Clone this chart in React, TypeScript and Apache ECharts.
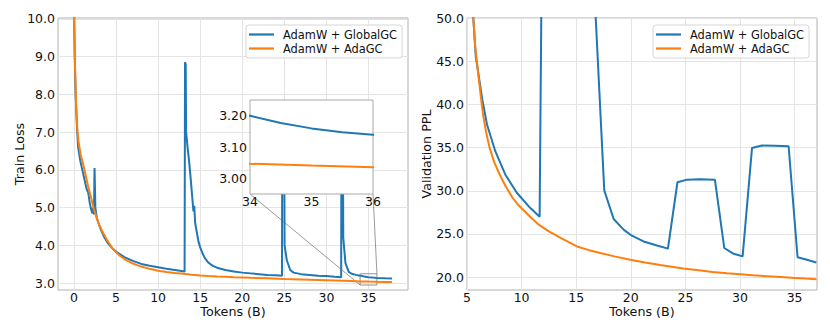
import React, { useEffect, useRef } from "react";
import * as echarts from "echarts";

// ---------- names & ticks ----------
const SERIES_NAMES = ["AdamW + GlobalGC", "AdamW + AdaGC"];
const lossTicksX = [0, 5, 10, 15, 20, 25, 30, 35];
const lossTicksY = [3, 4, 5, 6, 7, 8, 9, 10];
const pplTicksX = [5, 10, 15, 20, 25, 30, 35];
const pplTicksY = [20, 25, 30, 35, 40, 45, 50];
const insetTicksX = [34, 35, 36];
const insetTicksY = [3.0, 3.1, 3.2];

// ---------- train loss: AdamW + GlobalGC ----------
const lossGlobalTokens = [
  0, 0.1, 0.2, 0.35, 0.5, 0.75, 1.0, 1.25, 1.5, 1.7, 1.9, 2.05, 2.2, 2.3, 2.38, 2.45, 2.55, 2.7, 2.9, 3.2,
  3.6, 4.0, 4.5, 5, 6, 7, 8, 9, 10, 11, 12, 13.15, 13.2, 13.28, 13.33, 13.5, 13.7, 13.9, 14.05, 14.2,
  14.3, 14.4, 14.6, 14.8, 15.0, 15.3, 15.6, 16.0, 16.5, 17, 18, 19, 20, 21, 22, 23, 24, 24.72, 24.75, 24.98,
  25.03, 25.3, 25.7, 26.1, 27, 28, 29, 30, 31, 31.75, 31.78, 31.95, 32.0, 32.26, 32.65, 33.0, 33.5, 34, 34.5, 35,
  35.5, 36, 37, 37.8,
];
const lossGlobal = [
  10.5, 9.0, 8.0, 7.2, 6.6, 6.25, 6.0, 5.75, 5.5, 5.4, 5.1, 4.95, 4.85, 5.0, 4.82, 6.05, 5.0, 4.75, 4.6, 4.42,
  4.22, 4.07, 3.94, 3.84, 3.69, 3.59, 3.51, 3.46, 3.42, 3.38, 3.35, 3.31, 8.85, 8.8, 7.0, 6.6, 6.2, 5.7, 5.3, 4.9,
  5.05, 4.6, 4.35, 4.1, 3.95, 3.78, 3.65, 3.54, 3.46, 3.41, 3.35, 3.31, 3.28, 3.26, 3.24, 3.22, 3.21, 3.2, 7.0, 7.0,
  4.0, 3.6, 3.35, 3.28, 3.24, 3.22, 3.2, 3.19, 3.17, 3.16, 7.0, 7.0, 4.2, 3.53, 3.3, 3.25, 3.22, 3.2, 3.177, 3.16,
  3.148, 3.14, 3.13, 3.125,
];

// ---------- train loss: AdamW + AdaGC ----------
const lossAdaTokens = [
  0, 0.1, 0.25, 0.4, 0.55, 0.8, 1.1, 1.4, 1.7, 2.0, 2.3, 2.6, 2.9, 3.2, 3.6, 4.0, 4.5, 5, 5.5, 6, 6.5, 7,
  7.5, 8, 9, 10, 11, 12, 13, 14, 15, 16, 17, 18, 19, 21, 23, 25, 27, 29, 31, 33, 34, 35, 36, 37, 37.8,
];
const lossAda = [
  10.3, 9.0, 7.8, 7.1, 6.75, 6.4, 6.15, 5.85, 5.55, 5.3, 5.02, 4.8, 4.6, 4.45, 4.28, 4.12, 3.95, 3.82, 3.72, 3.64, 3.58, 3.52,
  3.48, 3.44, 3.38, 3.33, 3.295, 3.27, 3.25, 3.225, 3.205, 3.192, 3.18, 3.17, 3.16, 3.142, 3.128, 3.113, 3.1, 3.085, 3.07, 3.056, 3.048, 3.042, 3.037, 3.033, 3.03,
];

// ---------- validation PPL: AdamW + GlobalGC ----------
const pplGlobalTokens = [
  5.55, 5.8, 6.4, 6.83, 7.59, 8.5, 9.58, 10.8, 11.65, 12.5, 13.35, 14.2, 15.05, 15.9, 16.75, 17.57, 18.43, 19.34, 20.1, 21.17,
  22.4, 23.4, 24.27, 25.15, 26.36, 27.7, 28.56, 29.42, 30.24, 31.1, 32.0, 33.2, 34.45, 35.27, 36.13, 36.99,
];
const pplGlobal = [
  50.6, 45.6, 40.6, 37.7, 34.6, 31.9, 29.75, 28.0, 27.0, 157, 150, 130, 110, 80, 51, 30.06, 26.74, 25.5, 24.8, 24.13,
  23.67, 23.3, 31.0, 31.3, 31.35, 31.3, 23.37, 22.7, 22.4, 34.98, 35.25, 35.22, 35.17, 22.3, 22.0, 21.7,
];

// ---------- validation PPL: AdamW + AdaGC ----------
const pplAdaTokens = [
  5.55, 5.75, 6.0, 6.25, 6.47, 6.75, 7.07, 7.5, 7.99, 8.55, 9.17, 9.7, 10.3, 10.9, 11.5, 12.5, 13.7, 15.07, 16.1, 17.2,
  18.5, 19.95, 21.3, 22.7, 24.8, 26.2, 27.5, 28.8, 30.0, 31.2, 32.5, 33.8, 35.0, 36.0, 37.0,
];
const pplAda = [
  50.6, 46.8, 43.9, 41.1, 38.85, 36.8, 35.0, 33.3, 31.9, 30.5, 29.2, 28.35, 27.6, 26.85, 26.15, 25.3, 24.45, 23.55, 23.15, 22.8,
  22.4, 22.0, 21.7, 21.4, 21.0, 20.8, 20.6, 20.45, 20.33, 20.2, 20.1, 20.0, 19.9, 19.82, 19.75,
];

const FONT = "DejaVu Sans";
const TEXT = "#111111";
const BLUE = "#1f77b4";
const ORANGE = "#ff7f0e";
const GRID_LINE = "#e4e4e4";
const SPINE = "#b0b0b0";

const zip = (xs: number[], ys: number[]) => xs.map((x, i) => [x, ys[i]]);

function valueAxis(gridIndex: number, min: number, max: number, ticks: number[], digits: number, extra: any = {}) {
  return {
    type: "value",
    gridIndex,
    min,
    max,
    axisLine: { show: false },
    axisTick: { show: false, customValues: ticks },
    axisLabel: {
      customValues: ticks,
      fontSize: 12.5,
      lineHeight: 12,
      fontFamily: FONT,
      color: TEXT,
      margin: 3,
      formatter: (v: number) => v.toFixed(digits),
    },
    splitLine: { show: true, lineStyle: { color: GRID_LINE, width: 1 } },
    nameMoveOverlap: false,
    nameTextStyle: { fontSize: 12.7, lineHeight: 13, fontFamily: FONT, color: TEXT },
    ...extra,
  };
}

function legend(left: number) {
  return {
    left,
    top: 25,
    orient: "vertical",
    data: SERIES_NAMES,
    icon: "rect",
    itemWidth: 25,
    itemHeight: 2.2,
    itemGap: 3,
    padding: [4, 5, 4, 3],
    borderColor: "#d6d6d6",
    borderWidth: 1,
    borderRadius: 3,
    backgroundColor: "rgba(255,255,255,0.85)",
    textStyle: { fontSize: 11.4, fontFamily: FONT, color: TEXT, padding: [0, 0, 0, 4] },
  };
}

function line(name: string, data: number[][], color: string, xi: number, extra: any = {}) {
  return {
    type: "line",
    name,
    data,
    xAxisIndex: xi,
    yAxisIndex: xi,
    symbol: "none",
    showSymbol: false,
    lineStyle: { color, width: 2 },
    itemStyle: { color },
    clip: true,
    ...extra,
  };
}

export default function App() {
  const ref = useRef<HTMLDivElement>(null);
  useEffect(() => {
    document.body.style.margin = "0";
    const chart = echarts.init(ref.current!, null, { renderer: "svg" });
    const gridBase = {
      show: true,
      borderColor: SPINE,
      borderWidth: 1,
      backgroundColor: "transparent",
      containLabel: false,
      outerBoundsMode: "none",
    };
    const xa0: any = valueAxis(0, -1.89, 39.69, lossTicksX, 0, { name: "Tokens (B)", nameLocation: "middle", nameGap: 15 });
    xa0.axisLabel.margin = 1;
    const xa1: any = valueAxis(1, 5, 37.05, pplTicksX, 0, { name: "Tokens (B)", nameLocation: "middle", nameGap: 15 });
    xa1.axisLabel.margin = 1;
    const xa2: any = valueAxis(2, 34, 36, insetTicksX, 0, { splitLine: { show: false }, z: 6 });
    xa2.axisLabel.margin = 1;
    const option: any = {
      animation: false,
      textStyle: { fontFamily: FONT },
      grid: [
        { ...gridBase, left: 58, top: 18, width: 350, height: 272 },
        { ...gridBase, left: 467, top: 18, width: 350, height: 272 },
        { ...gridBase, left: 250, top: 100, width: 123, height: 94, backgroundColor: "#ffffff", borderColor: "#a8a8a8", z: 5 },
      ],
      xAxis: [xa0, xa1, xa2],
      yAxis: [
        valueAxis(0, 2.82, 10.02, lossTicksY, 1, { name: "Train Loss", nameLocation: "middle", nameGap: 32 }),
        valueAxis(1, 18.5, 50.05, pplTicksY, 1, { name: "Validation PPL", nameLocation: "middle", nameGap: 34 }),
        valueAxis(2, 2.952, 3.25, insetTicksY, 2, { splitLine: { show: false }, z: 6 }),
      ],
      legend: [legend(246), legend(653)],
      series: [
        line(SERIES_NAMES[0], zip(lossGlobalTokens, lossGlobal), BLUE, 0),
        line(SERIES_NAMES[1], zip(lossAdaTokens, lossAda), ORANGE, 0),
        line(SERIES_NAMES[0], zip(pplGlobalTokens, pplGlobal), BLUE, 1),
        line(SERIES_NAMES[1], zip(pplAdaTokens, pplAda), ORANGE, 1),
        line(SERIES_NAMES[0], zip(lossGlobalTokens, lossGlobal), BLUE, 2, { z: 6 }),
        line(SERIES_NAMES[1], zip(lossAdaTokens, lossAda), ORANGE, 2, { z: 6 }),
      ],
    };
    chart.setOption(option);

    // zoom indicator + connectors, positioned via the axes' scales
    const p0 = chart.convertToPixel({ gridIndex: 0 }, [34, 2.952]) as number[];
    const p1 = chart.convertToPixel({ gridIndex: 0 }, [36, 3.25]) as number[];
    const q0 = chart.convertToPixel({ gridIndex: 2 }, [34, 2.952]) as number[];
    const q1 = chart.convertToPixel({ gridIndex: 2 }, [36, 2.952]) as number[];
    const conn = { stroke: "#555555", lineWidth: 0.6 };
    chart.setOption({
      graphic: [
        {
          type: "rect",
          z: 3,
          shape: { x: p0[0], y: p1[1], width: p1[0] - p0[0], height: p0[1] - p1[1] },
          style: { fill: "none", stroke: "#777777", lineWidth: 0.8 },
        },
        { type: "line", z: 1, shape: { x1: q0[0], y1: q0[1], x2: p0[0], y2: p0[1] }, style: conn },
        { type: "line", z: 1, shape: { x1: q1[0], y1: q1[1], x2: p1[0], y2: p1[1] }, style: conn },
      ],
    });
    return () => chart.dispose();
  }, []);
  return <div ref={ref} style={{ width: 830, height: 332, position: "absolute", left: 0, top: 0 }} />;
}
